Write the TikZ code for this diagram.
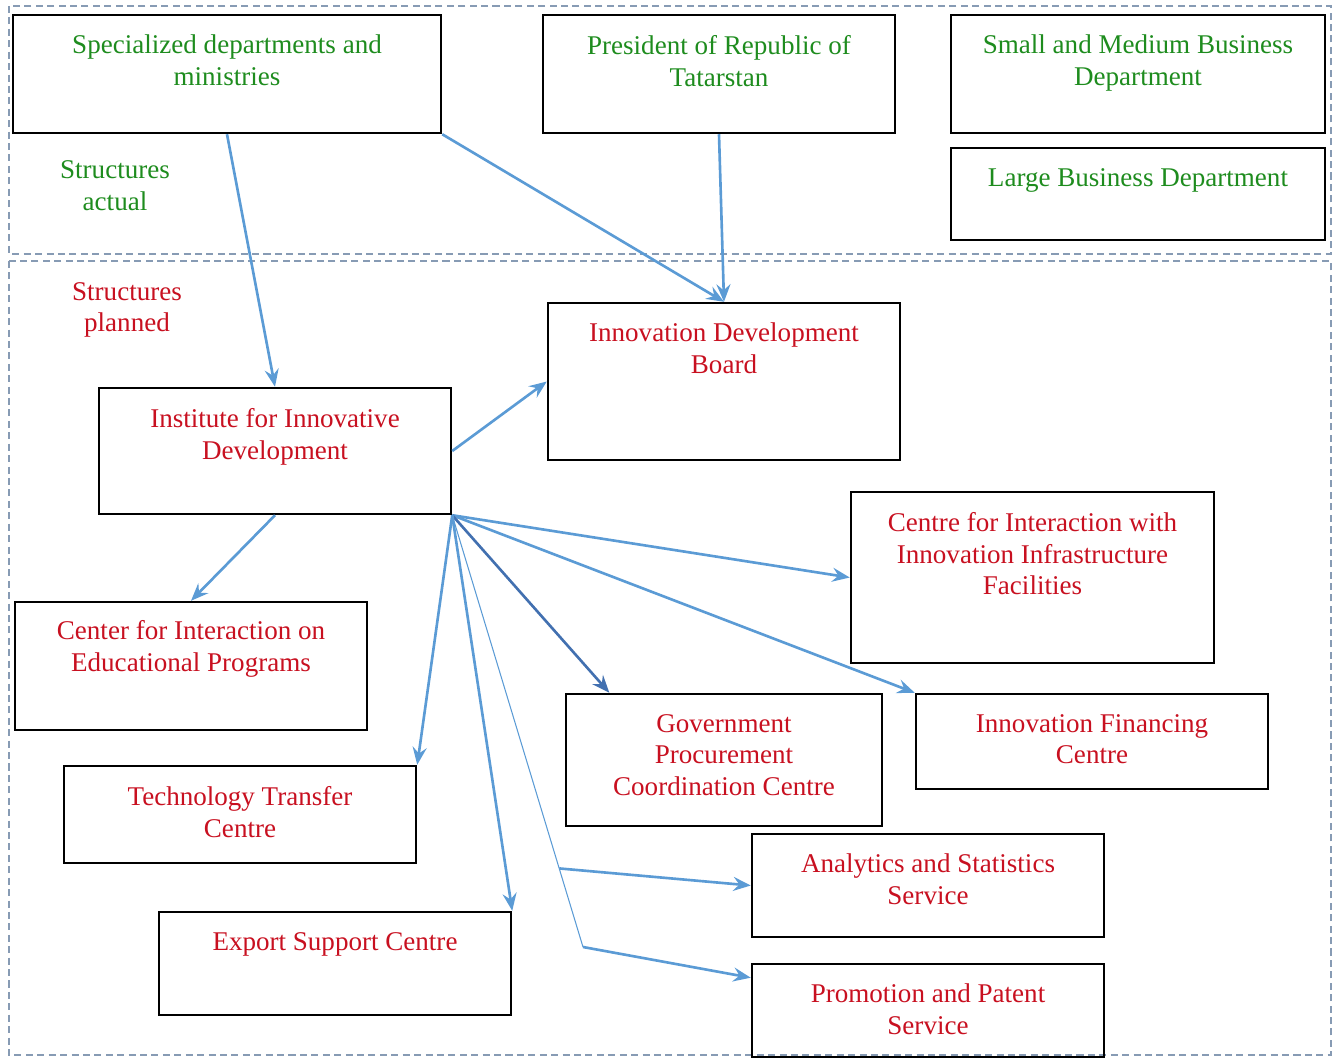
\documentclass[tikz,border=0pt]{standalone}
\usepackage{fontspec}
\setmainfont{Liberation Serif}
\usetikzlibrary{positioning,fit,calc,arrows.meta}

\definecolor{lineblue}{RGB}{91,155,213}
\definecolor{darkblue}{RGB}{66,112,176}
\definecolor{txtgreen}{RGB}{30,140,30}
\definecolor{txtred}{RGB}{200,16,32}
\definecolor{framegray}{RGB}{135,155,180}

\begin{document}
\begin{tikzpicture}[x=0.02cm, y=-0.02cm,
    box/.style={draw=black, line width=1.4pt, inner sep=0pt},
    actual/.style={text=txtgreen, align=center, inner sep=0pt,
                   font=\fontsize{15.4}{18.1}\selectfont},
    planned/.style={actual, text=txtred},
    region/.style={draw=framegray, line width=0.8pt, dash pattern=on 4pt off 2.5pt},
    link/.style={draw=lineblue, line width=1.5pt,
                 -{Stealth[length=10pt,width=8pt,inset=3.5pt]}}]

     \useasboundingbox (0,0) rectangle (1333,1059);

     % the two zones
     \draw[region] (9,6) rectangle (1331,254);
     \draw[region] (9,261) rectangle (1331,1055);

     % structures actual
     \node[actual] (act) at (115,186) {Structures\\actual};
     \node[box, fit={(13,15) (441,133)}] (spec) {};
     \node[actual, below=12pt of spec.north] (spec-t) {Specialized departments and\\ministries};
     \node[box, fit={(543,15) (895,133)}] (pres) {};
     \node[actual, below=12pt of pres.north] (pres-t) {President of Republic of\\Tatarstan};
     \node[box, fit={(951,15) (1325,133)}] (smb) {};
     \node[actual, below=12pt of smb.north] (smb-t) {Small and Medium Business\\Department};
     \node[box, fit={(951,148) (1325,240)}] (lbd) {};
     \node[actual, below=12pt of lbd.north] (lbd-t) {Large Business Department};

     % structures planned
     \node[planned] (plan) at (127,310) {Structures\\planned};
     \node[box, fit={(548,303) (900,460)}] (idb) {};
     \node[planned, below=12pt of idb.north] (idb-t) {Innovation Development\\Board};
     \node[box, fit={(99,388) (451,514)}] (ins) {};
     \node[planned, below=12pt of ins.north] (ins-t) {Institute for Innovative\\Development};
     \node[box, fit={(15,602) (367,730)}] (edu) {};
     \node[planned, below=11pt of edu.north] (edu-t) {Center for Interaction on\\Educational Programs};
     \node[box, fit={(851,492) (1214,663)}] (cii) {};
     \node[planned, below=12pt of cii.north] (cii-t) {Centre for Interaction with\\Innovation Infrastructure\\Facilities};
     \node[box, fit={(566,694) (882,826)}] (gov) {};
     \node[planned, below=12pt of gov.north] (gov-t) {Government\\Procurement\\Coordination Centre};
     \node[box, fit={(916,694) (1268,789)}] (fin) {};
     \node[planned, below=12pt of fin.north] (fin-t) {Innovation Financing\\Centre};
     \node[box, fit={(64,766) (416,863)}] (tech) {};
     \node[planned, below=12pt of tech.north] (tech-t) {Technology Transfer\\Centre};
     \node[box, fit={(752,834) (1104,937)}] (ana) {};
     \node[planned, below=12pt of ana.north] (ana-t) {Analytics and Statistics\\Service};
     \node[box, fit={(159,912) (511,1015)}] (exp) {};
     \node[planned, below=12pt of exp.north] (exp-t) {Export Support Centre};
     \node[box, fit={(752,964) (1104,1057)}] (pro) {};
     \node[planned, below=12pt of pro.north] (pro-t) {Promotion and Patent\\Service};

     % links
     \draw[link] (spec.south) -- (ins.north);
     \draw[link] (spec.south east) -- (idb.north);
     \draw[link] (pres.south) -- (idb.north);
     \draw[link] (ins.east) -- (idb.west);
     \draw[link] (ins.south) -- (edu.north);
     \draw[link] (ins.south east) -- (cii.west);
     \draw[link] (ins.south east) -- (fin.north west);
     \draw[link, draw=darkblue] (ins.south east) -- ($(gov.north west)!0.14!(gov.north east)$);
     \draw[link] (ins.south east) -- (tech.north east);
     \draw[link] (ins.south east) -- (exp.north east);

     \coordinate (br2) at (583,947);
     \coordinate (br1) at ($(ins.south east)!0.818!(br2)$);
     \draw[lineblue, line width=0.6pt] (ins.south east) -- (br2);
     \draw[link] (br1) -- (ana.west);
     \draw[link] (br2) -- ([yshift=-8.5pt]pro.north west);

  \end{tikzpicture}
\end{document}
